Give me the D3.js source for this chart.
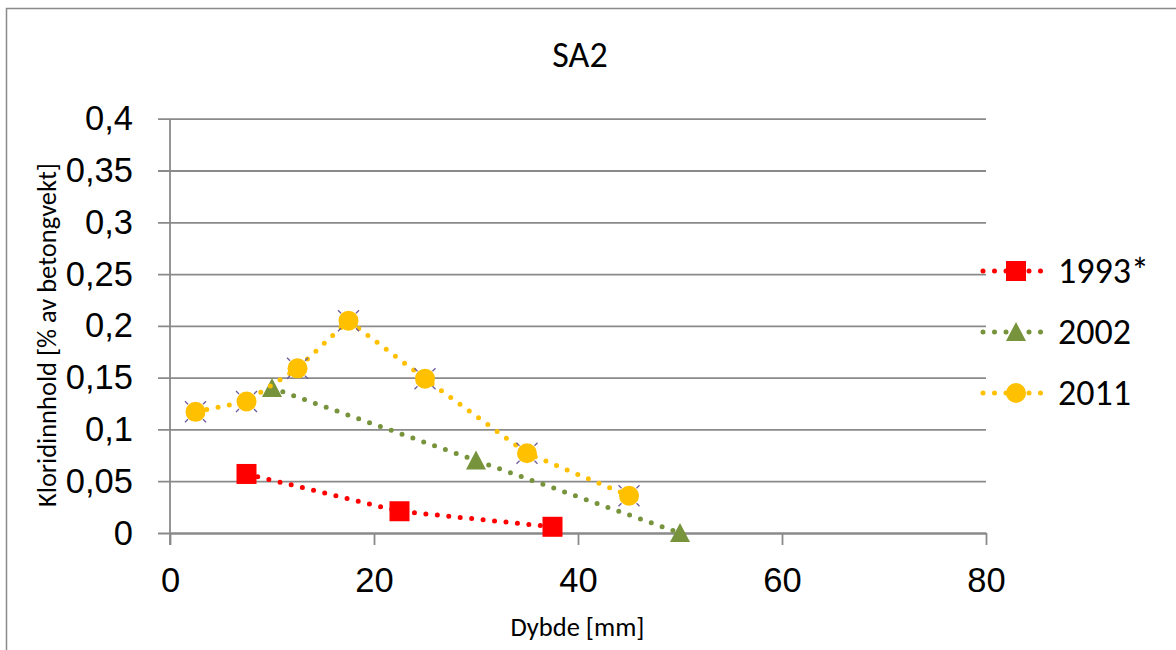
<!DOCTYPE html>
<html>
<head>
<meta charset="utf-8">
<script src="https://cdn.jsdelivr.net/npm/d3@7"></script>
<style>
  html, body { margin: 0; padding: 0; background: #fff; }
  svg { display: block; font-family: Carlito, Lato, "Open Sans", sans-serif; }
</style>
</head>
<body>
<svg id="chart" width="1176" height="650"></svg>
<script>
// Chloride content profiles at SA2 for three sampling years
const depth1993 = [7.5, 22.5, 37.5];
const chloride1993 = [0.057, 0.021, 0.006];
const depth2002 = [10, 30, 50];
const chloride2002 = [0.14, 0.07, 0];
const depth2011 = [2.5, 7.5, 12.5, 17.5, 25, 35, 45];
const chloride2011 = [0.117, 0.127, 0.159, 0.205, 0.149, 0.077, 0.036];
const seriesNames = ["1993*", "2002", "2011"];
const xTicks = [0, 20, 40, 60, 80];
const yTicks = [0, 0.05, 0.1, 0.15, 0.2, 0.25, 0.3, 0.35, 0.4];
const chartTitle = "SA2";
const xTitle = "Dybde [mm]";
const yTitle = "Kloridinnhold [% av betongvekt]";

const series = [
  { name: seriesNames[0], xs: depth1993, ys: chloride1993, color: "#FF0000", shape: "square" },
  { name: seriesNames[1], xs: depth2002, ys: chloride2002, color: "#77933C", shape: "triangle" },
  { name: seriesNames[2], xs: depth2011, ys: chloride2011, color: "#FFC000", shape: "circle" }
];

const svg = d3.select("#chart");
const gridColor = "#8a8a8a";
const tickFont = 34.5;
const bigFont = 36;
const titleFont = 26.5;

// Outer chart frame
svg.append("rect")
  .attr("x", 6.5).attr("y", 8.5)
  .attr("width", 1200).attr("height", 700)
  .attr("fill", "#fff").attr("stroke", gridColor).attr("stroke-width", 1.5);

const x = d3.scaleLinear().domain([0, 80]).range([170, 986]);
const y = d3.scaleLinear().domain([0, 0.4]).range([533, 118.7]);

const nf = d3.formatLocale({ decimal: ",", thousands: " ", grouping: [3], currency: ["", ""] }).format("~f");

// Horizontal gridlines with y labels
const yAxis = d3.axisLeft(y).tickValues(yTicks).tickFormat(nf)
  .tickSize(-(x.range()[1] - x.range()[0])).tickSizeOuter(0).tickPadding(37);
const gy = svg.append("g").attr("transform", `translate(${x.range()[0]},0)`).call(yAxis);
gy.select(".domain").remove();
gy.selectAll(".tick line").attr("stroke", gridColor).attr("stroke-width", 1.8).attr("x1", -12);
gy.selectAll(".tick text").attr("font-size", tickFont).attr("fill", "#000").attr("dy", "0.32em");

// Y axis line
svg.append("line")
  .attr("x1", x(0)).attr("x2", x(0))
  .attr("y1", y(0.4)).attr("y2", y(0) + 12)
  .attr("stroke", gridColor).attr("stroke-width", 1.8);

// X axis with outward ticks
const xAxis = d3.axisBottom(x).tickValues(xTicks).tickFormat(d3.format("d"))
  .tickSize(12).tickSizeOuter(0).tickPadding(23);
const gx = svg.append("g").attr("transform", `translate(0,${y(0)})`).call(xAxis);
gx.select(".domain").attr("stroke", gridColor).attr("stroke-width", 1.8);
gx.selectAll(".tick line").attr("stroke", gridColor).attr("stroke-width", 1.8);
gx.selectAll(".tick text").attr("font-size", tickFont).attr("fill", "#000");

// Titles
svg.append("text").attr("x", 580).attr("y", 67).attr("text-anchor", "middle")
  .attr("font-size", bigFont).attr("fill", "#000").text(chartTitle);
svg.append("text").attr("x", 577.5).attr("y", 636).attr("text-anchor", "middle")
  .attr("font-size", titleFont).attr("fill", "#000").text(xTitle);
svg.append("text").attr("transform", "translate(56,335) rotate(-90)").attr("text-anchor", "middle")
  .attr("font-size", titleFont).attr("fill", "#000").text(yTitle);

function drawMarker(g, shape, color, cx, cy) {
  if (shape === "square") {
    g.append("rect").attr("x", cx - 10).attr("y", cy - 10).attr("width", 20).attr("height", 20).attr("fill", color);
  } else if (shape === "triangle") {
    g.append("path").attr("d", `M${cx},${cy - 10}L${cx + 10},${cy + 9}L${cx - 10},${cy + 9}Z`).attr("fill", color);
  } else {
    if (shape === "circle") {
      // small purple corner ticks around the round marker
      [[-1, -1], [1, -1], [-1, 1], [1, 1]].forEach(([sx, sy]) => {
        g.append("line")
          .attr("x1", cx + sx * 7.5).attr("y1", cy + sy * 7.5)
          .attr("x2", cx + sx * 10.5).attr("y2", cy + sy * 10.5)
          .attr("stroke", "#6a5a9a").attr("stroke-width", 1.3);
      });
    }
    g.append("circle").attr("cx", cx).attr("cy", cy).attr("r", 10).attr("fill", color);
  }
}

const line = d3.line().x(d => x(d[0])).y(d => y(d[1]));

series.forEach(s => {
  const g = svg.append("g");
  const pts = s.xs.map((v, i) => [v, s.ys[i]]);
  g.append("path").attr("d", line(pts))
    .attr("fill", "none").attr("stroke", s.color).attr("stroke-width", 5)
    .attr("stroke-linecap", "round").attr("stroke-dasharray", "0 11.5");
  pts.forEach(p => drawMarker(g, s.shape, s.color, x(p[0]), y(p[1])));
});

// Legend
const legendY = [271, 332, 393];
series.forEach((s, i) => {
  const g = svg.append("g");
  const ly = legendY[i];
  g.append("line").attr("x1", 983).attr("x2", 1049).attr("y1", ly).attr("y2", ly)
    .attr("stroke", s.color).attr("stroke-width", 5)
    .attr("stroke-linecap", "round").attr("stroke-dasharray", "0 11.5");
  drawMarker(g, s.shape === "circle" ? "plaincircle" : s.shape, s.color, 1016, ly);
  g.append("text").attr("x", 1058).attr("y", ly).attr("dy", "0.32em")
    .attr("font-size", bigFont).attr("fill", "#000").text(s.name);
});
</script>
</body>
</html>
